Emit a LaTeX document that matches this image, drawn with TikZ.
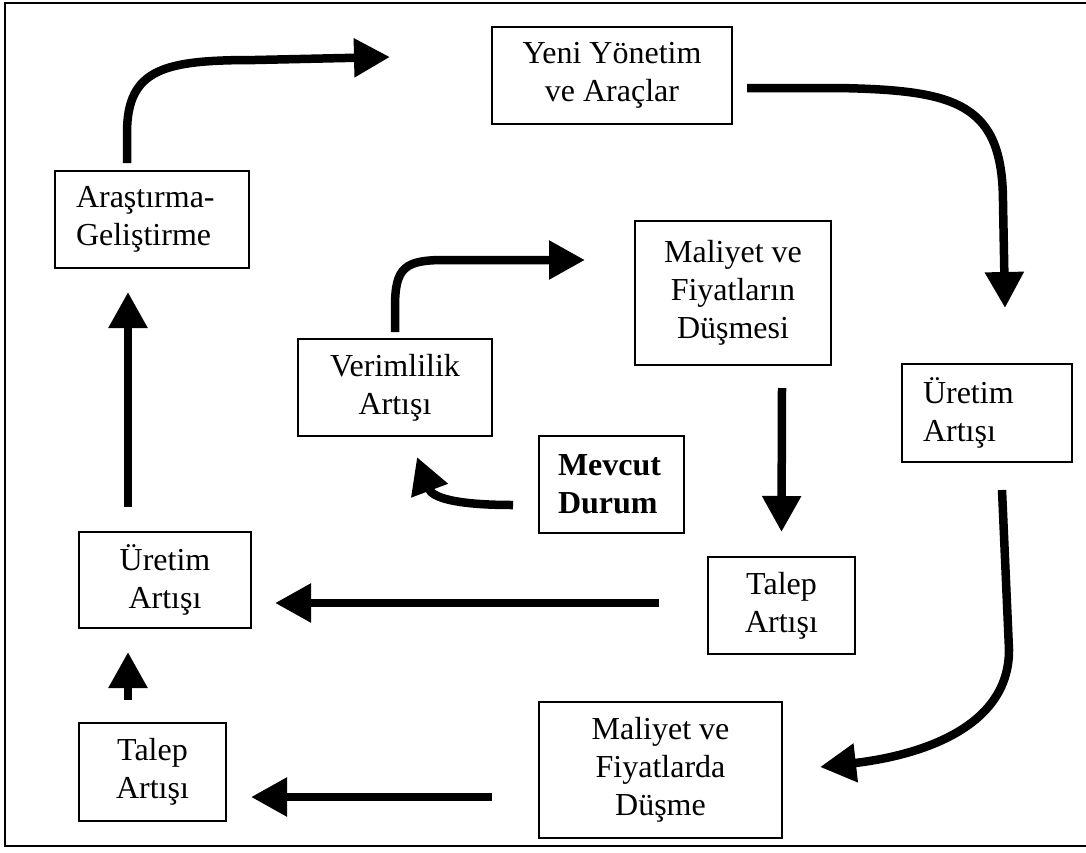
\documentclass[tikz,border=0pt]{standalone}
\usepackage{fontspec}
\setmainfont{Liberation Serif}
\usetikzlibrary{arrows.meta}

\begin{document}
\begin{tikzpicture}[x=1pt,y=-1pt,inner sep=0pt,outer sep=0pt,
kutu/.style={draw,rectangle,line width=1.2pt,align=center,font=\fontsize{32}{38}\selectfont},
solkutu/.style={kutu,align=left},
ok/.style={line width=8.5pt,-{Triangle[length=36pt,width=37pt]}}]

\useasboundingbox (0,0) rectangle (1086,852);
\draw[line width=1.6pt] (5,3) rectangle (1100,846);

\draw (612,75.5) node[kutu,minimum width=240pt,minimum height=97pt] (yeni) {Yeni Yönetim\\ve Araçlar};
\draw (152,219.5) node[solkutu,text width=152pt,inner xsep=21pt,minimum height=97pt] (arge) {Araştırma-\\Geliştirme};
\draw (733,293) node[kutu,minimum width=196pt,minimum height=144pt] (mfd) {Maliyet ve\\Fiyatların\\Düşmesi};
\draw (987,413) node[solkutu,text width=128pt,inner xsep=21pt,minimum height=98pt] (uretimR) {Üretim\\Artışı};
\draw (395,387.5) node[kutu,minimum width=194pt,minimum height=97pt] (verim) {Verimlilik\\Artışı};
\draw (611.5,484.5) node[solkutu,text width=107pt,inner xsep=19pt,minimum height=97pt,font=\fontsize{32}{38}\selectfont\bfseries] (mevcut) {Mevcut\\Durum};
\draw (165,580) node[kutu,minimum width=172pt,minimum height=96pt] (uretimL) {Üretim\\Artışı};
\draw (781.5,605.5) node[kutu,minimum width=147pt,minimum height=97pt] (talepM) {Talep\\Artışı};
\draw (152.5,772) node[kutu,minimum width=147pt,minimum height=98pt] (talepL) {Talep\\Artışı};
\draw (660.5,770) node[kutu,minimum width=243pt,minimum height=136pt] (mfd2) {Maliyet ve\\Fiyatlarda\\Düşme};

% dis cark
\draw[ok] ([shift={(-25,-8)}]arge.north) -- ++(0,-30) .. controls +(0,-65) and +(-90,0) .. ++(128,-73) -- ([shift={(-102,-18.5)}]yeni.west);
\draw[ok] ([shift={(15,12.5)}]yeni.east) -- ++(90,0) .. controls +(120,2) and +(0,-100) .. ++(166,115) -- ([shift={(18,-56)}]uretimR.north);
\draw[ok] ([shift={(15,28)}]uretimR.south) -- ++(7,160) .. controls +(0,90) and +(70,-8) .. ([shift={(38,-3)}]mfd2.east);
\draw[ok] ([shift={(-47,27)}]mfd2.west) -- ([shift={(25,25)}]talepL.east);
\draw[ok] ([shift={(-24.5,-23)}]talepL.north) -- ([shift={(-37,24)}]uretimL.south);
\draw[ok] ([shift={(-37,-25)}]uretimL.north) -- ([shift={(-24,24)}]arge.south);

% ic cark
\draw[ok] ([shift={(-26,20.5)}]mevcut.west) .. controls +(-60,0) and +(15,40) .. ([shift={(22,21)}]verim.south);
\draw[ok] ([shift={(0,-7)}]verim.north) -- ++(0,-25) .. controls +(0,-40) and +(-40,0) .. ++(50,-47) -- ([shift={(-50,-33)}]mfd.west);
\draw[ok] ([shift={(49,23)}]mfd.south) -- ([shift={(0,-25)}]talepM.north);
\draw[ok] ([shift={(-49,-2.5)}]talepM.west) -- ([shift={(24,23)}]uretimL.east);
\end{tikzpicture}
\end{document}
